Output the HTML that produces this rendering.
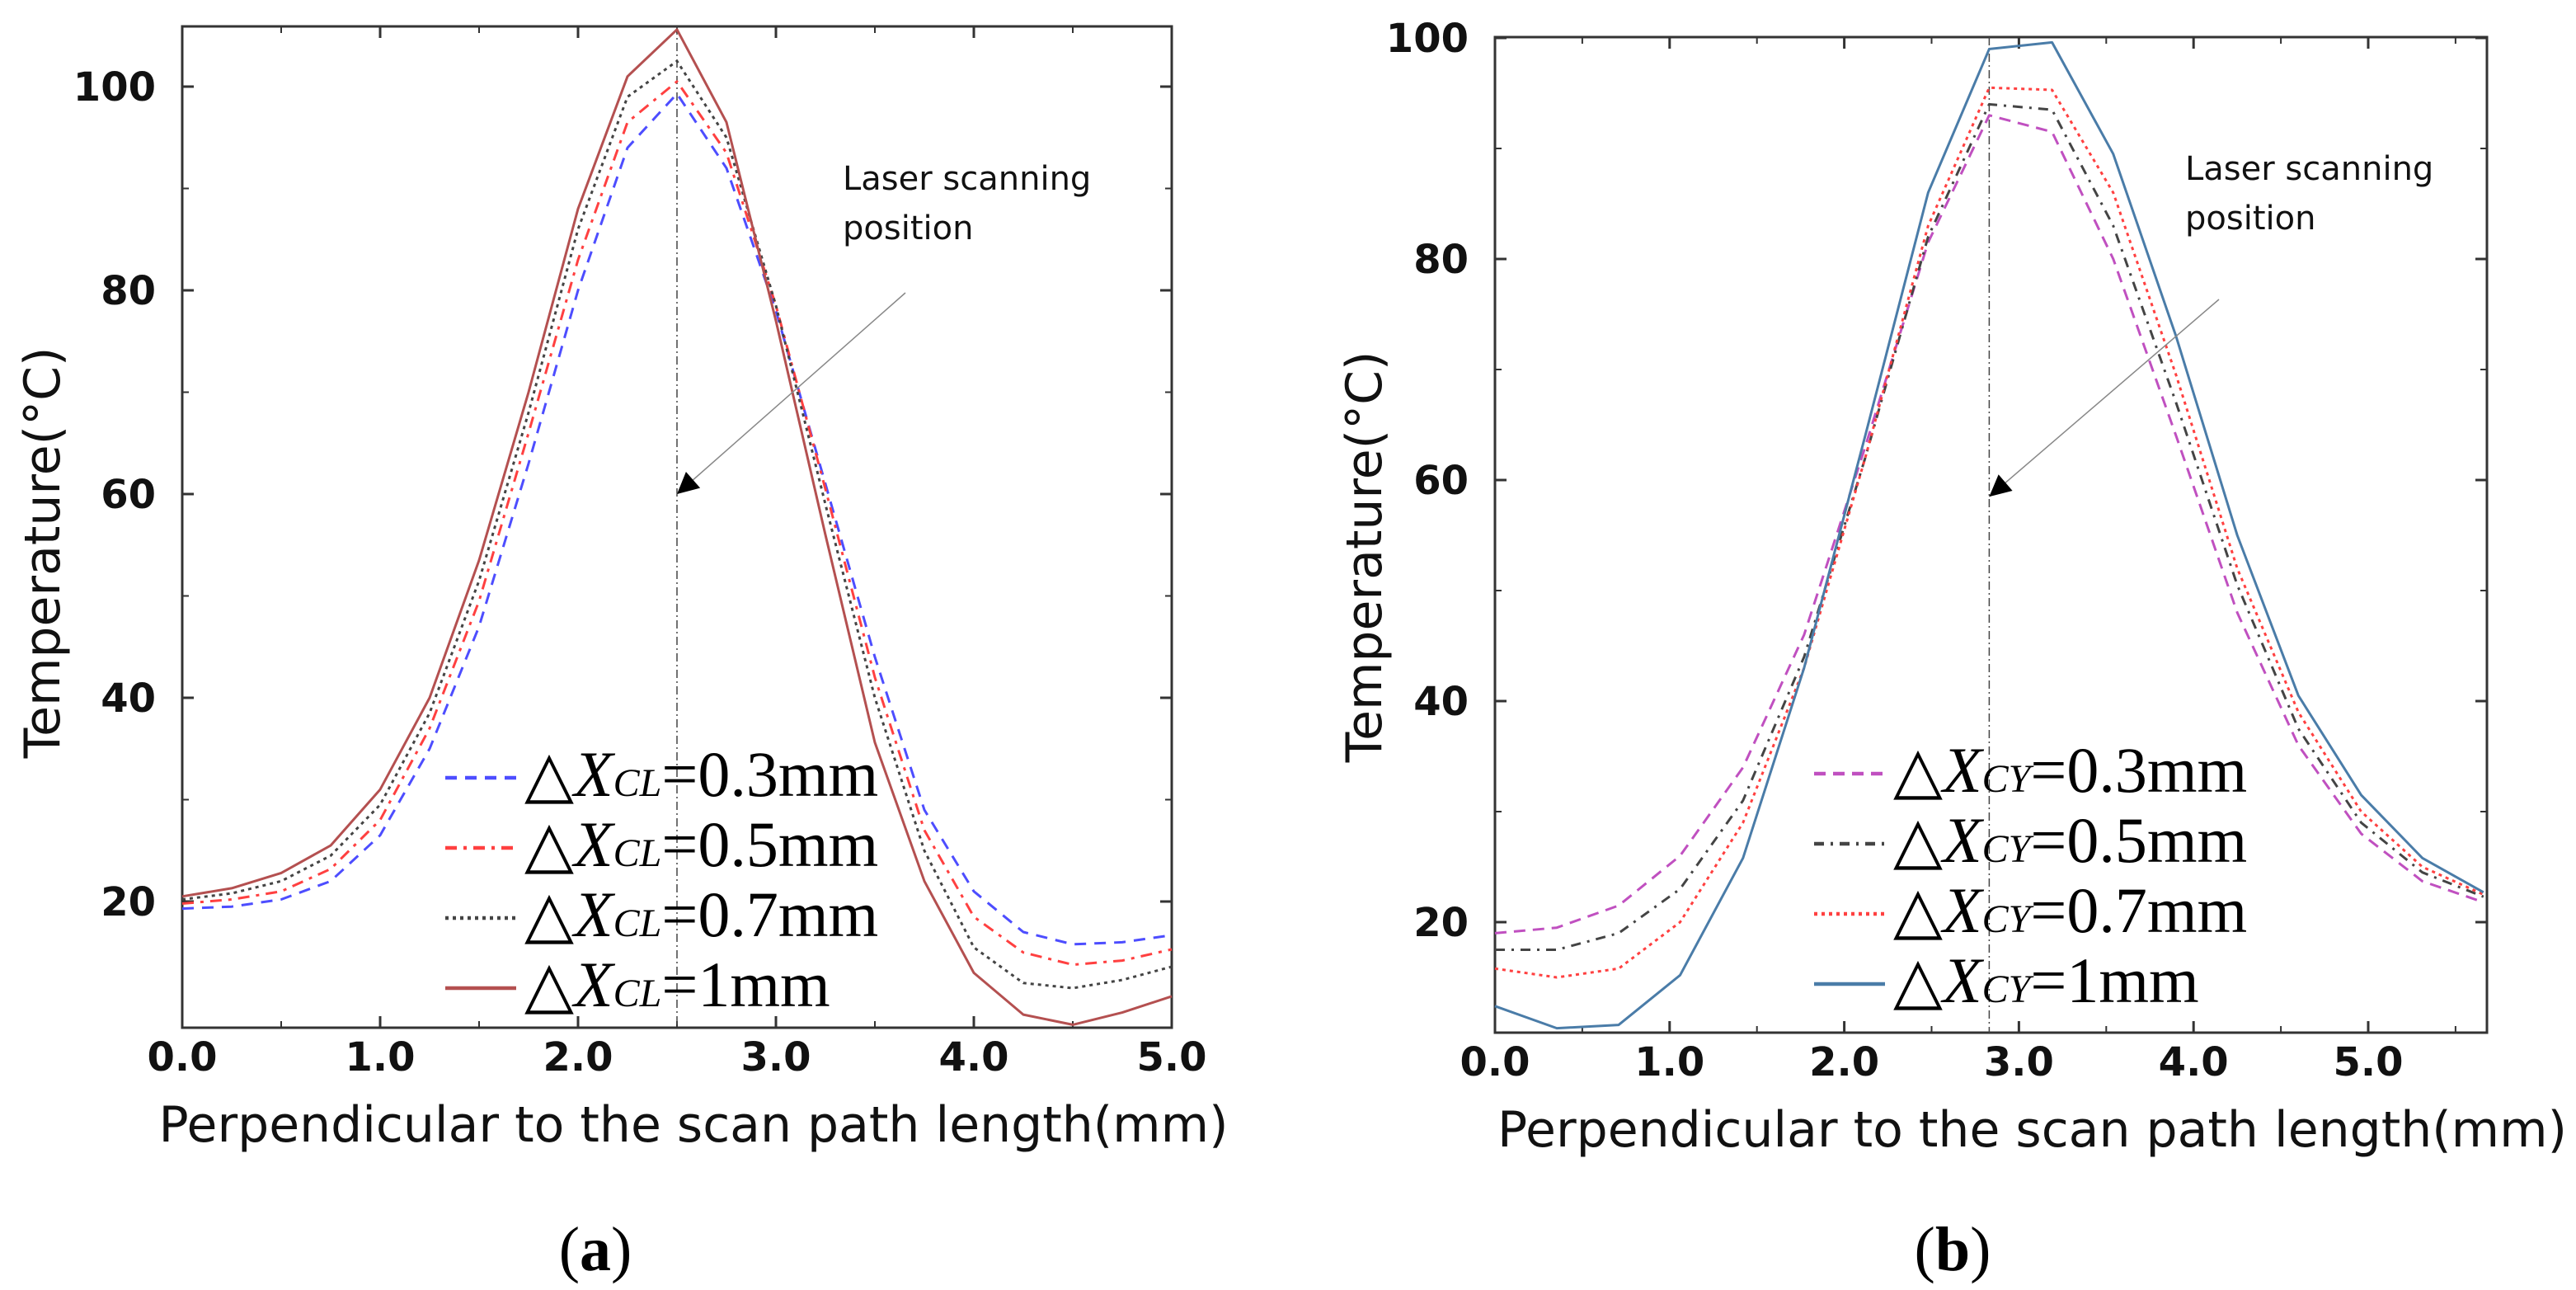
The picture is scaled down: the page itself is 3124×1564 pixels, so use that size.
<!DOCTYPE html>
<html><head><meta charset="utf-8">
<style>
html,body{margin:0;padding:0;background:#fff;}
svg{display:block;}
.tick{font-family:"DejaVu Sans","Liberation Sans",sans-serif;font-weight:bold;font-size:48px;fill:#111;}
.title{font-family:"DejaVu Sans","Liberation Sans",sans-serif;font-size:60px;fill:#111;}
.leg{font-family:"Liberation Serif",serif;font-size:78px;fill:#000;}
.ann{font-family:"DejaVu Sans","Liberation Sans",sans-serif;font-size:40px;fill:#111;}
.cap{font-family:"Liberation Serif",serif;font-size:76px;fill:#000;}
</style></head>
<body>
<svg id="chart" width="3124" height="1564" viewBox="0 0 3124 1564" xmlns="http://www.w3.org/2000/svg"></svg>
<script>
// ---- Panel (a) data ----
const xA = [0,0.25,0.5,0.75,1.0,1.25,1.5,1.75,2.0,2.25,2.5,2.75,3.0,3.25,3.5,3.75,4.0,4.25,4.5,4.75,5.0];
const aCL03 = [19.3,19.5,20.2,22,26.5,35,47,63,80,94,99.3,92,78,61,44,29,21,17,15.8,16,16.7];
const aCL05 = [19.8,20.2,21,23.2,28,37,49.5,66,83,96.5,100.5,93.5,78.5,60.5,42,27,18.5,15,13.8,14.2,15.3];
const aCL07 = [20.2,20.8,22,24.5,29.5,38.5,51.5,68,86,99,102.5,95,78.5,59,40,25,15.5,12,11.5,12.3,13.6];
const aCL10 = [20.5,21.3,22.8,25.5,31,40,53.5,70,88,101,105.6,96.5,77,56,35.6,22,13,8.9,7.9,9.1,10.7];
const xTicksA = ["0.0","1.0","2.0","3.0","4.0","5.0"];
const yTicksA = ["20","40","60","80","100"];
const legendA = ["0.3mm","0.5mm","0.7mm","1mm"];
// ---- Panel (b) data ----
const xB = [0,0.354,0.708,1.06,1.42,1.77,2.12,2.48,2.83,3.19,3.54,3.9,4.25,4.6,4.96,5.31,5.66];
const bCY03 = [19,19.5,21.5,26,34,46,63,81.5,93,91.5,80,64,48,36,28,23.7,21.8];
const bCY05 = [17.5,17.5,19,23,31,44,62,82,94,93.5,83,67,50.5,37.5,29,24.5,22.3];
const bCY07 = [15.8,15,15.8,20,29,43,62,83,95.5,95.3,86,69.5,52,39,30,25,22.5];
const bCY10 = [12.4,10.4,10.7,15.2,25.8,43,64,86,99,99.6,89.5,73,55,40.5,31.5,25.8,22.7];
const xTicksB = ["0.0","1.0","2.0","3.0","4.0","5.0"];
const yTicksB = ["20","40","60","80","100"];
const legendB = ["0.3mm","0.5mm","0.7mm","1mm"];

const NS = "http://www.w3.org/2000/svg";
const svg = document.getElementById('chart');
function mk(tag, attrs, parent, text){
  const e = document.createElementNS(NS, tag);
  for (const k in attrs) e.setAttribute(k, attrs[k]);
  if (text !== undefined) e.textContent = text;
  (parent || svg).appendChild(e);
  return e;
}
svg.innerHTML = '<defs><marker id="arrh" viewBox="0 0 10 10" refX="10" refY="5" markerWidth="36" markerHeight="26" markerUnits="userSpaceOnUse" orient="auto"><path d="M0,0 L10,5 L0,10 z" fill="#000"/></marker></defs>';

function panel(cfg){
  const g = mk('g', {});
  
  
  const sx = v => cfg.x0 + (v - cfg.xmin) / (cfg.xmax - cfg.xmin) * (cfg.x1 - cfg.x0);
  const sy = v => cfg.y1 - (v - cfg.ymin) / (cfg.ymax - cfg.ymin) * (cfg.y1 - cfg.y0);
  const fr = mk('rect', {x:cfg.x0, y:cfg.y0, width:cfg.x1-cfg.x0, height:cfg.y1-cfg.y0, fill:'none', stroke:'#333', 'stroke-width':3}, g);
  
  
  cfg.xTicks.forEach((t, i) => {
    const v = parseFloat(t), px = sx(v);
    mk('line', {x1:px, x2:px, y1:cfg.y1, y2:cfg.y1-14, stroke:'#333', 'stroke-width':3}, g);
    mk('line', {x1:px, x2:px, y1:cfg.y0, y2:cfg.y0+14, stroke:'#333', 'stroke-width':3}, g);
    const mv = v + 0.5;
    if (mv < cfg.xmax) {
      mk('line', {x1:sx(mv), x2:sx(mv), y1:cfg.y1, y2:cfg.y1-8, stroke:'#333', 'stroke-width':2}, g);
      mk('line', {x1:sx(mv), x2:sx(mv), y1:cfg.y0, y2:cfg.y0+8, stroke:'#333', 'stroke-width':2}, g);
    }
    const tl = mk('text', {x:px, y:cfg.y1+52, 'text-anchor':'middle', class:'tick'}, g, t);
    
    
  });
  cfg.yTicks.forEach(t => {
    const v = parseFloat(t), py = sy(v);
    mk('line', {x1:cfg.x0, x2:cfg.x0+14, y1:py, y2:py, stroke:'#333', 'stroke-width':3}, g);
    mk('line', {x1:cfg.x1, x2:cfg.x1-14, y1:py, y2:py, stroke:'#333', 'stroke-width':3}, g);
    const mv = v + 10;
    if (mv < cfg.ymax) {
      mk('line', {x1:cfg.x0, x2:cfg.x0+8, y1:sy(mv), y2:sy(mv), stroke:'#333', 'stroke-width':2}, g);
      mk('line', {x1:cfg.x1, x2:cfg.x1-8, y1:sy(mv), y2:sy(mv), stroke:'#333', 'stroke-width':2}, g);
    }
    const tl = mk('text', {x:cfg.x0-32, y:py+17, 'text-anchor':'end', class:'tick'}, g, t);
    
    
  });
  const ll = mk('line', {x1:sx(cfg.laserX), x2:sx(cfg.laserX), y1:cfg.y0, y2:cfg.y1, stroke:'#444', 'stroke-width':1.5, 'stroke-dasharray':'10 4 2 4'}, g);
  
  
  cfg.series.forEach(s => {
    const d = cfg.xs.map((x, i) => (i ? 'L' : 'M') + sx(x).toFixed(1) + ',' + sy(s.y[i]).toFixed(1)).join(' ');
    const p = mk('path', {d:d, fill:'none', stroke:s.color, 'stroke-width':s.w, 'stroke-dasharray':s.dash, 'stroke-linejoin':'round'}, g);
    
    
  });
  const ar = mk('line', {x1:cfg.arrow[0], y1:cfg.arrow[1], x2:sx(cfg.laserX), y2:sy(cfg.arrowY), stroke:'#888', 'stroke-width':1.5, 'marker-end':'url(#arrh)'}, g);
  
  
  const at = mk('text', {x:cfg.annX, y:cfg.annY, class:'ann'}, g);
  
  
  mk('tspan', {x:cfg.annX, dy:0}, at, 'Laser scanning');
  mk('tspan', {x:cfg.annX, dy:60}, at, 'position');
  cfg.series.forEach((s, i) => {
    const by = cfg.legY + i * cfg.legDy;
    const lg = mk('g', {}, g);
    
    
    mk('line', {x1:cfg.legX, x2:cfg.legX+86, y1:by-22, y2:by-22, stroke:s.color, 'stroke-width':s.w+1.5, 'stroke-dasharray':s.dash}, lg);
    const t = mk('text', {x:cfg.legX+96, y:by, class:'leg'}, lg);
    mk('tspan', {}, t, '△');
    mk('tspan', {'font-style':'italic'}, t, 'X');
    mk('tspan', {'font-style':'italic', 'font-size':'48px'}, t, cfg.sub);
    mk('tspan', {}, t, '=' + cfg.legend[i]);
  });
  const xt = mk('text', {x:(cfg.x0+cfg.x1)/2 + cfg.xtOff, y:cfg.y1+138, 'text-anchor':'middle', class:'title'}, g, 'Perpendicular to the scan path length(mm)');
  
  
  const yt = mk('text', {x:0, y:0, 'text-anchor':'middle', class:'title', transform:`translate(${cfg.ytX},${cfg.ytY}) rotate(-90)`}, g, 'Temperature(°C)');
  
  
  const cp = mk('text', {x:cfg.capX, y:1540, 'text-anchor':'middle', class:'cap'}, g);
  
  
  mk('tspan', {}, cp, '(');
  mk('tspan', {'font-weight':'bold'}, cp, cfg.cap);
  mk('tspan', {}, cp, ')');
}

panel({name:'panel-a', x0:221, x1:1421, y0:32, y1:1246, xmin:0, xmax:5, ymin:(1340-1246)/12.35, ymax:(1340-32)/12.35,
  xs:xA, xTicks:xTicksA, yTicks:yTicksA, laserX:2.5, arrowY:60, arrow:[1098,355],
  annX:1022, annY:230, legX:540, legY:965, legDy:85, sub:'CL', legend:legendA,
  xtOff:20, ytX:72, ytY:670, capX:722, cap:'a',
  series:[
    {name:'series-cl-0.3mm', y:aCL03, color:'#4d4dff', w:3, dash:'14 10'},
    {name:'series-cl-0.5mm', y:aCL05, color:'#ff4040', w:3, dash:'14 8 4 8'},
    {name:'series-cl-0.7mm', y:aCL07, color:'#444', w:3, dash:'4 5'},
    {name:'series-cl-1mm', y:aCL10, color:'#b45050', w:3, dash:'none'}
  ]});

panel({name:'panel-b', x0:1813, x1:3016, y0:45, y1:1252, xmin:0, xmax:(1456-253)/211.8, ymin:(1386-1252)/13.4, ymax:(1386-45)/13.4,
  xs:xB, xTicks:xTicksB, yTicks:yTicksB, laserX:2.83, arrowY:58.5, arrow:[2691,363],
  annX:2650, annY:218, legX:2200, legY:960, legDy:85, sub:'CY', legend:legendB,
  xtOff:50, ytX:1675, ytY:675, capX:2368, cap:'b',
  series:[
    {name:'series-cy-0.3mm', y:bCY03, color:'#c050c0', w:3, dash:'14 9'},
    {name:'series-cy-0.5mm', y:bCY05, color:'#444', w:3, dash:'12 8 3 8'},
    {name:'series-cy-0.7mm', y:bCY07, color:'#ff4040', w:3, dash:'4 5'},
    {name:'series-cy-1mm', y:bCY10, color:'#4a7ca8', w:3, dash:'none'}
  ]});
</script>
</body></html>
